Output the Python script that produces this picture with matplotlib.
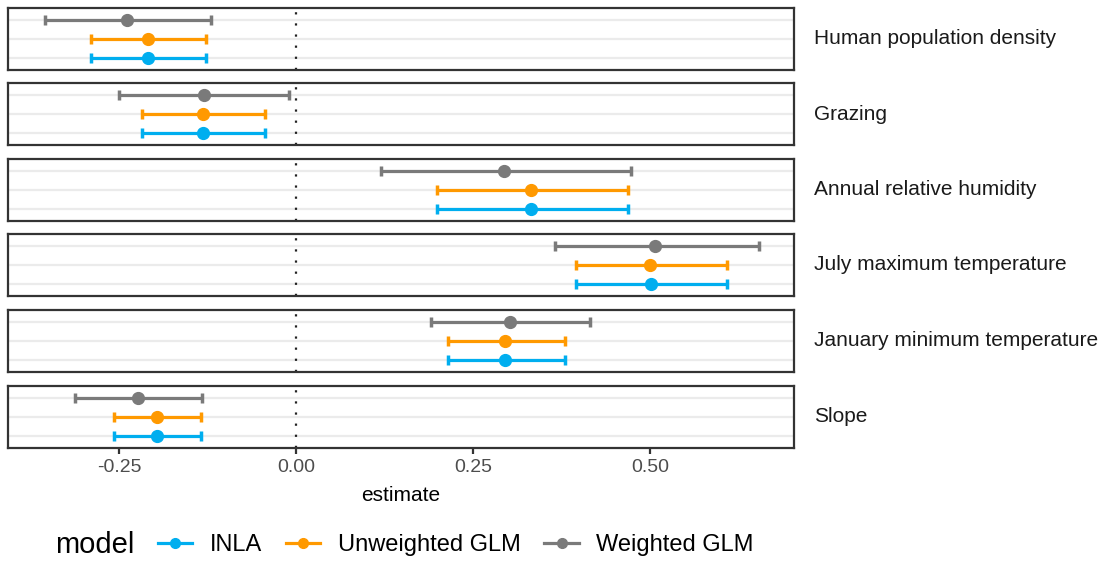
import matplotlib
matplotlib.use("Agg")
import matplotlib.pyplot as plt
from matplotlib.lines import Line2D

plt.rcParams['font.family'] = ['Liberation Sans', 'DejaVu Sans']

# covariates, top to bottom
terms = ["Human population density", "Grazing", "Annual relative humidity",
         "July maximum temperature", "January minimum temperature", "Slope"]
models = ["INLA", "Unweighted GLM", "Weighted GLM"]
colors = {"INLA": "#00AEEF", "Unweighted GLM": "#FF9900", "Weighted GLM": "#7A7A7A"}

# estimate, lower, upper per model (same order as terms)
inla_est = [-0.209, -0.131, 0.331, 0.501, 0.295, -0.196]
inla_lo = [-0.290, -0.218, 0.199, 0.395, 0.215, -0.257]
inla_hi = [-0.127, -0.044, 0.469, 0.609, 0.380, -0.134]

unw_est = [-0.209, -0.131, 0.331, 0.500, 0.295, -0.196]
unw_lo = [-0.290, -0.218, 0.199, 0.395, 0.215, -0.257]
unw_hi = [-0.127, -0.044, 0.469, 0.609, 0.380, -0.134]

wgt_est = [-0.239, -0.130, 0.294, 0.507, 0.302, -0.223]
wgt_lo = [-0.355, -0.250, 0.120, 0.366, 0.191, -0.312]
wgt_hi = [-0.121, -0.010, 0.473, 0.653, 0.415, -0.133]

series = {
    "INLA": (inla_est, inla_lo, inla_hi),
    "Unweighted GLM": (unw_est, unw_lo, unw_hi),
    "Weighted GLM": (wgt_est, wgt_lo, wgt_hi),
}

W, H = 1107, 563
fig = plt.figure(figsize=(W / 100, H / 100), dpi=100)

panel_tops = [8, 83, 159, 234, 310, 386]
panel_h = 62
left, right = 8, 794

for i, term in enumerate(terms):
    top = panel_tops[i]
    ax = fig.add_axes([left / W, 1 - (top + panel_h) / H, (right - left) / W, panel_h / H])
    for j, m in enumerate(models):
        est, lo, hi = series[m]
        y = j + 1
        ax.errorbar(est[i], y, xerr=[[est[i] - lo[i]], [hi[i] - est[i]]],
                    fmt='o', color=colors[m], ms=8.5, elinewidth=2.3,
                    capsize=3.5, capthick=2.5, zorder=3)
    ax.set_ylim(0.4, 3.6)
    ax.set_xlim(-0.407, 0.703)
    ax.axvline(0, color='#222222', ls=(0, (1, 4)), lw=1.6, zorder=2)
    ax.set_yticks([1, 2, 3])
    ax.yaxis.grid(True, color='#EBEBEB', lw=1.6)
    ax.set_axisbelow(True)
    ax.tick_params(axis='y', length=0, labelleft=False)
    ax.set_xticks([-0.25, 0, 0.25, 0.5])
    for s in ax.spines.values():
        s.set_color('#333333')
        s.set_linewidth(1.6)
    if i < len(terms) - 1:
        ax.tick_params(axis='x', length=0, labelbottom=False)
    else:
        ax.set_xticklabels(["-0.25", "0.00", "0.25", "0.50"])
        ax.tick_params(axis='x', length=4, width=1.6, color='#333333',
                       labelsize=14, labelcolor='#4D4D4D', pad=4)
        ax.set_xlabel("estimate", fontsize=15, labelpad=7)
    fig.text(814 / W, 1 - (top + panel_h / 2) / H, term, fontsize=15,
             va='center', ha='left', color='#1A1A1A')

fig.text(55 / W, 1 - 545 / H, "model", fontsize=21, va='center', ha='left')
handles = [Line2D([0], [0], color=colors[m], lw=2.3, marker='o', ms=7) for m in models]
fig.legend(handles, models, loc='center left', bbox_to_anchor=(137 / W, 1 - 545 / H),
           ncol=3, frameon=False, fontsize=17, handlelength=1.45,
           handletextpad=0.75, columnspacing=1.0)

fig.savefig("out.png", dpi=100)
